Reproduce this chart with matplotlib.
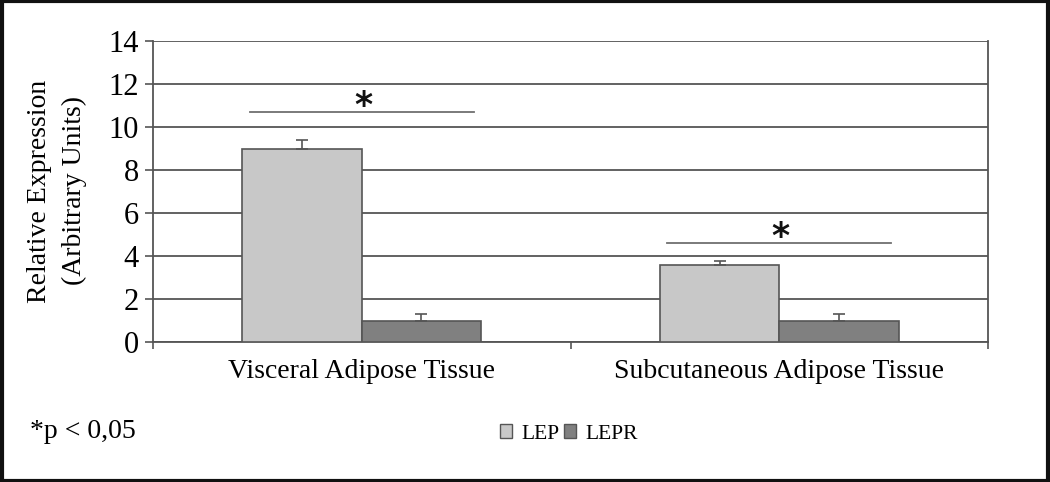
import matplotlib
matplotlib.use("Agg")
import matplotlib.pyplot as plt
from matplotlib.patches import Rectangle, Patch
import numpy as np

categories = ["Visceral Adipose Tissue", "Subcutaneous Adipose Tissue"]
series_names = ["LEP", "LEPR"]
lep_values = [9.0, 3.6]
lep_errors = [0.38, 0.18]
lepr_values = [1.0, 1.0]
lepr_errors = [0.32, 0.3]
sig_heights = [10.7, 4.6]
yticks = [0, 2, 4, 6, 8, 10, 12, 14]

plt.rcParams['font.family'] = ['Liberation Serif', 'DejaVu Serif']

fig = plt.figure(figsize=(10.5, 4.82), dpi=100)
ax = fig.add_axes([153/1050, 1-342/482, (988-153)/1050, (342-41)/482])

x = np.arange(len(categories))
w = 0.286
colors = ["#c8c8c8", "#808080"]
edge = "#555555"
ax.bar(x - w/2, lep_values, w, color=colors[0], edgecolor=edge, linewidth=1.2, zorder=3)
ax.bar(x + w/2, lepr_values, w, color=colors[1], edgecolor=edge, linewidth=1.2, zorder=3)
ax.errorbar(x - w/2, lep_values, yerr=[np.zeros(2), lep_errors], fmt='none',
            ecolor=edge, elinewidth=1.2, capsize=4, capthick=1.2, zorder=4)
ax.errorbar(x + w/2, lepr_values, yerr=[np.zeros(2), lepr_errors], fmt='none',
            ecolor=edge, elinewidth=1.2, capsize=4, capthick=1.2, zorder=4)

for xi, h in zip(x, sig_heights):
    ax.plot([xi - 0.268, xi + 0.268], [h, h], color="#707070", lw=1.3, zorder=3)
    ax.text(xi + 0.003, h - 0.2, "*", ha="center", va="baseline", fontsize=25,
            fontweight="bold", family=["DejaVu Sans"], color="#111111")

ax.set_xlim(-0.5, 1.5)
ax.set_ylim(0, 14)
ax.set_yticks(yticks)
ax.set_yticklabels([str(t) for t in yticks], fontsize=22)
ax.yaxis.grid(True, color="#555555", lw=1.3, zorder=0)
ax.set_axisbelow(True)
ax.set_xticks([-0.5, 0.5, 1.5], minor=True)
ax.set_xticks(x)
ax.set_xticklabels(categories, fontsize=20)
ax.tick_params(axis='x', which='major', length=0, pad=12)
ax.tick_params(axis='x', which='minor', length=5, color=edge, width=1.2)
ax.tick_params(axis='y', length=6, color=edge, width=1.2, pad=4)
for s in ["left", "bottom", "right"]:
    ax.spines[s].set_color(edge)
    ax.spines[s].set_linewidth(1.3)
ax.spines["top"].set_visible(False)

fig.text(57/1050, 1-191/482, "Relative Expression\n(Arbitrary Units)", fontsize=20,
         rotation=90, ha="center", va="center", linespacing=1.5, multialignment="center")

fig.text(30/1050, 1-432/482, "*p < 0,05", fontsize=20, va="center", ha="left")

handles = [Patch(facecolor=colors[0], edgecolor=edge),
           Patch(facecolor=colors[1], edgecolor=edge)]
fig.legend(handles, series_names, loc="center", bbox_to_anchor=(569/1050, 1-434/482),
           ncol=2, frameon=False, fontsize=15.5, handlelength=0.56, handleheight=0.56,
           handletextpad=0.45, columnspacing=0.2, borderpad=0)

fig.patches.append(Rectangle((0.002, 0.003), 0.996, 0.994, transform=fig.transFigure,
                             fill=False, edgecolor="#111111", lw=3))

fig.savefig("out.png", dpi=100)
